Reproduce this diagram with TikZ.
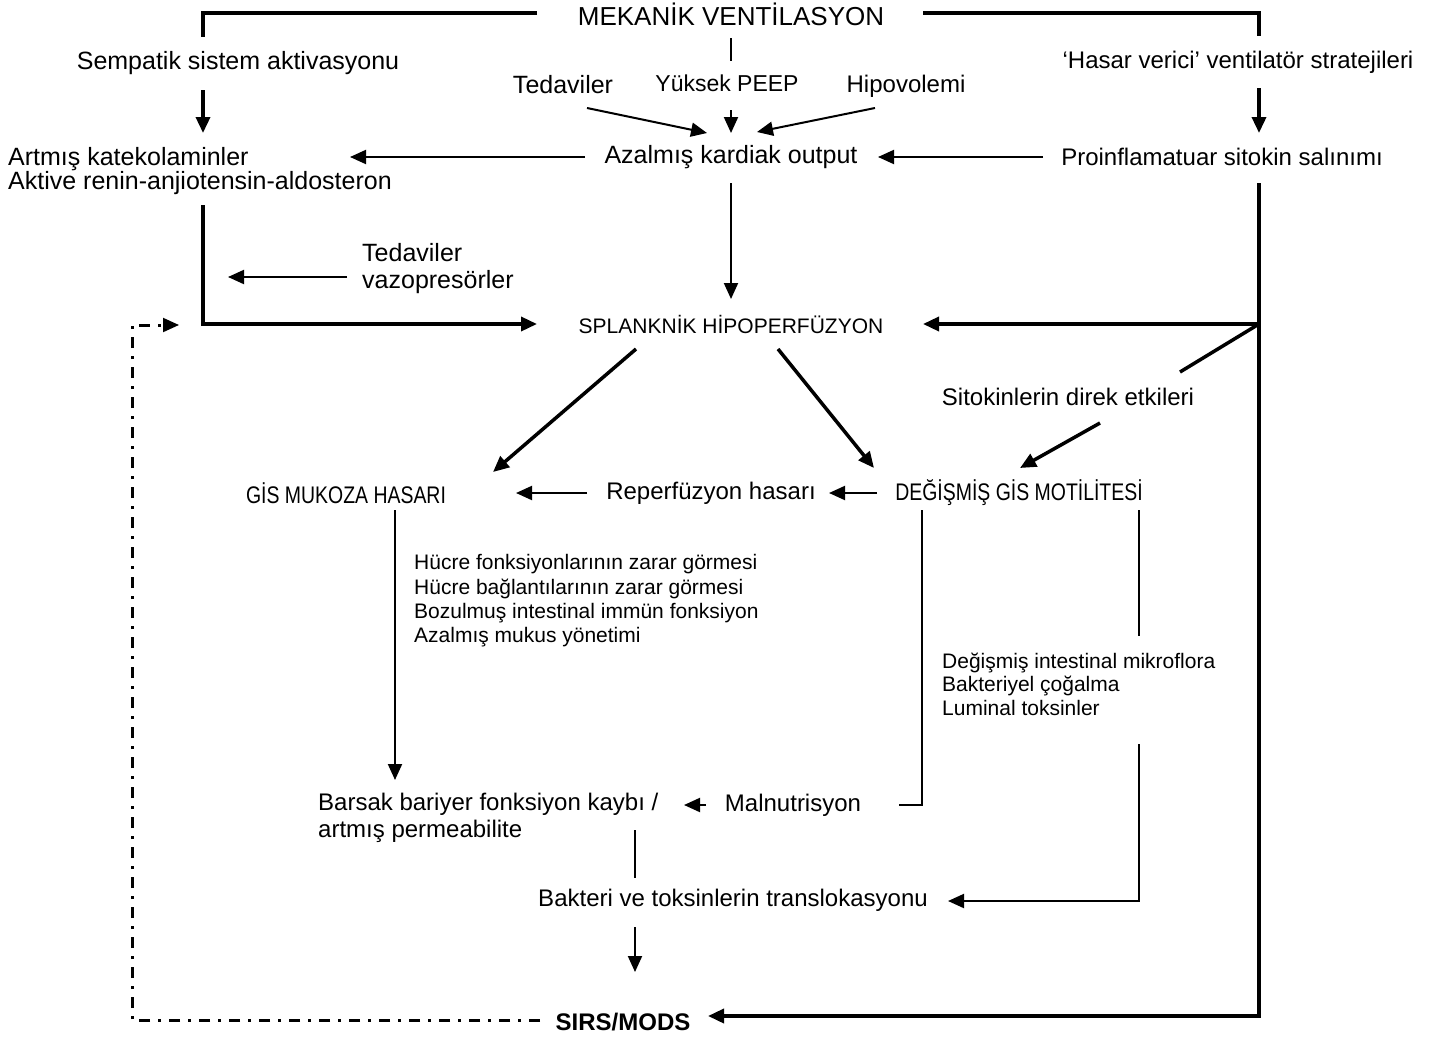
\documentclass[tikz,border=0pt]{standalone}
\usepackage{fontspec}
\usepackage{graphicx}
\setmainfont{Liberation Sans}
\usetikzlibrary{arrows.meta}
\newcommand{\narrowcaps}[1]{\scalebox{0.81}[1]{\fontsize{24}{26}\selectfont #1}}
\begin{document}
\begin{tikzpicture}[x=1pt,y=-1pt,
  lbl/.style={inner sep=0pt, font=\fontsize{24}{27}\selectfont, align=center},
  sml/.style={inner sep=0pt, font=\fontsize{21}{24}\selectfont, align=left, anchor=west},
  thk/.style={line width=3.5pt},
  thn/.style={line width=2pt},
  tip/.style={-{Triangle[length=16pt,width=14pt]}},
  dashdot/.style={line width=3pt, dash pattern=on 11pt off 8pt on 3pt off 8pt}
]
\useasboundingbox (0,0) rectangle (1439,1036);
\fill[white] (0,0) rectangle (1439,1036);

% nodes
\node[lbl,font=\fontsize{26}{28}\selectfont] (mv) at (731,14) {MEKANİK VENTİLASYON};
\node[lbl,font=\fontsize{25}{27}\selectfont] (sem) at (238,63) {Sempatik sistem aktivasyonu};
\node[lbl] (has) at (1238,62) {‘Hasar verici’ ventilatör stratejileri};
\node[lbl,font=\fontsize{25}{27}\selectfont] (ted) at (563,85) {Tedaviler};
\node[lbl,font=\fontsize{23}{25}\selectfont] (peep) at (727,83) {Yüksek PEEP};
\node[lbl] (hipo) at (906,86) {Hipovolemi};
\node[lbl,anchor=west,align=left,font=\fontsize{25}{24.5}\selectfont] (art) at (8,171) {Artmış katekolaminler\\Aktive renin-anjiotensin-aldosteron};
\node[lbl,font=\fontsize{25}{27}\selectfont] (ako) at (731,157) {Azalmış kardiak output};
\node[lbl] (pro) at (1222,157) {Proinflamatuar sitokin salınımı};
\node[lbl,anchor=west,align=left,font=\fontsize{25}{27}\selectfont] (tv) at (362,269) {Tedaviler\\vazopresörler};
\node[inner sep=0pt,font=\fontsize{21}{24}\selectfont] (spl) at (731,324) {SPLANKNİK HİPOPERFÜZYON};
\node[lbl] (sit) at (1068,397) {Sitokinlerin direk etkileri};
\node[inner sep=0pt] (gis) at (346,493) {\narrowcaps{GİS MUKOZA HASARI}};
\node[lbl] (rep) at (711,493) {Reperfüzyon hasarı};
\node[inner sep=0pt] (deg) at (1019,493) {\narrowcaps{DEĞİŞMİŞ GİS MOTİLİTESİ}};
\node[sml,font=\fontsize{21}{24.3}\selectfont] (huc) at (414,601) {Hücre fonksiyonlarının zarar görmesi\\Hücre bağlantılarının zarar görmesi\\Bozulmuş intestinal immün fonksiyon\\Azalmış mukus yönetimi};
\node[sml,font=\fontsize{21}{23.5}\selectfont] (mik) at (942,684) {Değişmiş intestinal mikroflora\\Bakteriyel çoğalma\\Luminal toksinler};
\node[lbl,anchor=west,align=left] (bar) at (318,818) {Barsak bariyer fonksiyon kaybı /\\artmış permeabilite};
\node[lbl] (mal) at (793,805) {Malnutrisyon};
\node[lbl] (bak) at (733,900) {Bakteri ve toksinlerin translokasyonu};
\node[lbl,font=\bfseries\fontsize{24}{26}\selectfont] (sirs) at (623,1022) {SIRS/MODS};

% coordinates
\coordinate (tl) at (537,13);
\coordinate (tr) at (923,13);
\coordinate (rv) at (1259,324);
\coordinate (rb) at (1259,1016);
\coordinate (dc) at (132,1020);

% top frame
\draw[thk] (tl) -| (203,37);
\draw[thk] (tr) -| (1259,36);
\draw[thn] (731,38) -- (731,61);
\draw[thk,tip] (203,90) -- (203,133);
\draw[thk,tip] (1259,88) -- (1259,133);
\draw[thn,tip] (587,108) -- (707,133);
\draw[thn,tip] (731,110) -- (731,133);
\draw[thn,tip] (875,108) -- (757,132);

% row 2
\draw[thn,tip] (585,157) -- (350,157);
\draw[thn,tip] (1043,157) -- (878,157);
\draw[thn,tip] (731,183) -- (731,299);

% left L
\draw[thk,tip] (203,205) -- (203,324) -- (537,324);
\draw[thn,tip] (347,277) -- (228,277);

% right long line
\draw[thk,tip] (1259,183) -- (rb) -- (708,1016);
\draw[thk,tip] (rv) -- (923,324);
\draw[thk] (rv) -- (1180,372);
\draw[thk,tip] (1100,423) -- (1020,468);

% from splanknik
\draw[thk,tip] (636,349) -- (493,472);
\draw[thk,tip] (778,349) -- (874,468);

% row GIS
\draw[thn,tip] (587,493) -- (516,493);
\draw[thn,tip] (877,493) -- (829,493);

\draw[thn,tip] (395,510) -- (395,780);
\draw[thn] (922,510) -- (922,805) -- (899,805);
\draw[thn] (1139,510) -- (1139,636);
\draw[thn,tip] (1139,744) -- (1139,901) -- (948,901);

\draw[thn,tip] (706,805) -- (684,805);
\draw[thn] (635,830) -- (635,878);
\draw[thn,tip] (635,927) -- (635,972);

% dash-dot feedback
\draw[dashdot] (540,1020) -- (dc) -- (132,325) -- (165,325);
\draw[thn,-{Triangle[length=16pt,width=14pt]}] (165,325) -- (179,325);
\end{tikzpicture}
\end{document}
